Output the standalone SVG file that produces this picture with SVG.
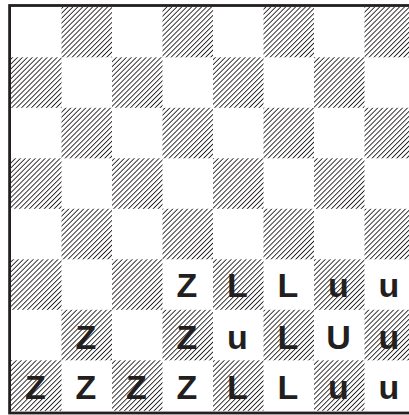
<svg xmlns="http://www.w3.org/2000/svg" width="409" height="415" viewBox="0 0 409 415">
<style>
.h{fill:url(#hatch)}
.t{font-family:"Liberation Sans",Arial,sans-serif;font-weight:bold;font-size:34px;fill:#231f20;text-anchor:middle}
</style>
<defs>
<pattern id="hatch" patternUnits="userSpaceOnUse" width="10" height="3.5" patternTransform="rotate(-45)">
<rect x="0" y="0" width="10" height="0.9" fill="#231f20"/>
</pattern>
</defs>
<rect x="0" y="0" width="409" height="415" fill="#ffffff"/>
<g id="board">
<rect class="h" x="61.5" y="6.8" width="50.5" height="50.5"/>
<rect class="h" x="162.5" y="6.8" width="50.5" height="50.5"/>
<rect class="h" x="263.5" y="6.8" width="50.5" height="50.5"/>
<rect class="h" x="364.5" y="6.8" width="50.5" height="50.5"/>
<rect class="h" x="11" y="57.3" width="50.5" height="50.5"/>
<rect class="h" x="112" y="57.3" width="50.5" height="50.5"/>
<rect class="h" x="213" y="57.3" width="50.5" height="50.5"/>
<rect class="h" x="314" y="57.3" width="50.5" height="50.5"/>
<rect class="h" x="61.5" y="107.8" width="50.5" height="50.5"/>
<rect class="h" x="162.5" y="107.8" width="50.5" height="50.5"/>
<rect class="h" x="263.5" y="107.8" width="50.5" height="50.5"/>
<rect class="h" x="364.5" y="107.8" width="50.5" height="50.5"/>
<rect class="h" x="11" y="158.3" width="50.5" height="50.5"/>
<rect class="h" x="112" y="158.3" width="50.5" height="50.5"/>
<rect class="h" x="213" y="158.3" width="50.5" height="50.5"/>
<rect class="h" x="314" y="158.3" width="50.5" height="50.5"/>
<rect class="h" x="61.5" y="208.8" width="50.5" height="50.5"/>
<rect class="h" x="162.5" y="208.8" width="50.5" height="50.5"/>
<rect class="h" x="263.5" y="208.8" width="50.5" height="50.5"/>
<rect class="h" x="364.5" y="208.8" width="50.5" height="50.5"/>
<rect class="h" x="11" y="259.3" width="50.5" height="50.5"/>
<rect class="h" x="112" y="259.3" width="50.5" height="50.5"/>
<rect class="h" x="213" y="259.3" width="50.5" height="50.5"/>
<rect class="h" x="314" y="259.3" width="50.5" height="50.5"/>
<rect class="h" x="61.5" y="309.8" width="50.5" height="50.5"/>
<rect class="h" x="162.5" y="309.8" width="50.5" height="50.5"/>
<rect class="h" x="263.5" y="309.8" width="50.5" height="50.5"/>
<rect class="h" x="364.5" y="309.8" width="50.5" height="50.5"/>
<rect class="h" x="11" y="360.3" width="50.5" height="50.5"/>
<rect class="h" x="112" y="360.3" width="50.5" height="50.5"/>
<rect class="h" x="213" y="360.3" width="50.5" height="50.5"/>
<rect class="h" x="314" y="360.3" width="50.5" height="50.5"/>
</g>
<rect id="frame" x="9.6" y="5.5" width="410" height="407.5" fill="none" stroke="#231f20" stroke-width="2.8"/>
<g id="pieces">
<text class="t" x="187" y="297">Z</text>
<text class="t" x="237.5" y="297">L</text>
<text class="t" x="288" y="297">L</text>
<text class="t" x="338.5" y="297">u</text>
<text class="t" x="389" y="297">u</text>
<text class="t" x="86" y="348.5">Z</text>
<text class="t" x="187" y="348.5">Z</text>
<text class="t" x="237.5" y="348.5">u</text>
<text class="t" x="288" y="348.5">L</text>
<text class="t" x="338.5" y="348.5">U</text>
<text class="t" x="389" y="348.5">u</text>
<text class="t" x="35.5" y="399">Z</text>
<text class="t" x="86" y="399">Z</text>
<text class="t" x="136.5" y="399">Z</text>
<text class="t" x="187" y="399">Z</text>
<text class="t" x="237.5" y="399">L</text>
<text class="t" x="288" y="399">L</text>
<text class="t" x="338.5" y="399">u</text>
<text class="t" x="389" y="399">u</text>
</g>
</svg>
